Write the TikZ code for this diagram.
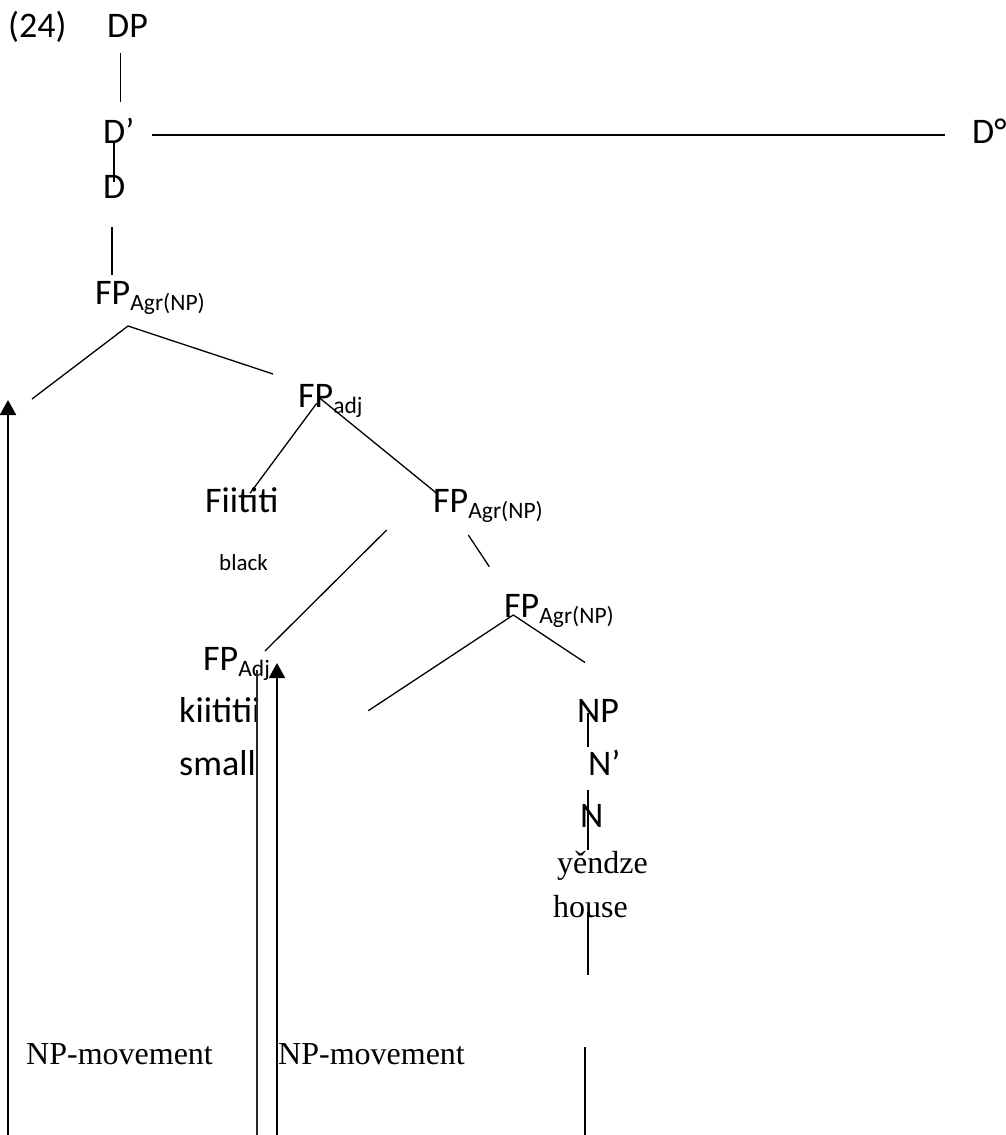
\documentclass[tikz,border=0pt]{standalone}
\usepackage{fontspec}
\setmainfont{Carlito}
\newfontfamily\tnr{Liberation Serif}
\usetikzlibrary{arrows.meta}
\newcommand{\sbs}[1]{\raisebox{-6pt}{\fontsize{23.5pt}{28pt}\selectfont #1}}
\begin{document}
\begin{tikzpicture}[x=1pt,y=-1pt,
  lab/.style={inner sep=0pt,anchor=base west,font=\fontsize{36pt}{43pt}\selectfont},
  tlab/.style={inner sep=0pt,anchor=base west,font=\tnr\fontsize{32pt}{38pt}\selectfont},
  smalllab/.style={inner sep=0pt,anchor=base west,font=\fontsize{23pt}{28pt}\selectfont},
  branch/.style={line width=1.3pt},
  thinline/.style={line width=1.2pt,black!85},
  movearrow/.style={line width=2pt,-{Triangle[length=15pt,width=16pt]}}]
\useasboundingbox (0,0) rectangle (1005,1135);
% labels
\node[lab] (n24) at (8,37) {(24)};
\node[lab] (DP) at (107,37) {DP};
\node[lab] (Dbar) at (103,143) {D’};
\node[lab] (Ddeg) at (972,143) {D°};
\node[lab] (D) at (103,198) {D};
\node[lab] (FPtop) at (95,304) {FP\sbs{Agr(NP)}};
\node[lab] (FPadj) at (298,407) {FP\sbs{adj}};
\node[lab] (Fiititi) at (205,512) {Fiititi};
\node[smalllab] (black) at (219,570) {black};
\node[lab] (FPmid) at (433,512) {FP\sbs{Agr(NP)}};
\node[lab] (FPlow) at (504,617) {FP\sbs{Agr(NP)}};
\node[lab] (FPAdj) at (203,670) {FP\sbs{Adj}};
\node[lab] (kiititii) at (179,722) {kiititii};
\node[lab] (small) at (179,775) {small};
\node[lab] (NP) at (577,722) {NP};
\node[lab] (Nbar) at (588,775) {N’};
\node[lab] (N) at (580,827) {N};
\node[tlab] (yendze) at (557,873) {yěndze};
\node[tlab] (house) at (553,917) {house};
\node[tlab] (mov1) at (26,1064) {NP-movement};
\node[tlab] (mov2) at (278,1064) {NP-movement};
% coordinates
\coordinate (a1) at (120.7,53);   \coordinate (a2) at (120.7,102);
\coordinate (h1) at (152,135);    \coordinate (h2) at (945,135);
\coordinate (b1) at (114,142);    \coordinate (b2) at (114,182);
\coordinate (c1) at (112,227);    \coordinate (c2) at (112,275);
\coordinate (t1) at (32,399);     \coordinate (t2) at (128,326);  \coordinate (t3) at (273,374);
\coordinate (f1) at (316.7,403.3); \coordinate (f2) at (250,493.3);
\coordinate (g1) at (320,398.3);  \coordinate (g2) at (436.7,493.3);
\coordinate (m1) at (386.7,530);  \coordinate (m2) at (265,651);
\coordinate (r1) at (468.3,535);  \coordinate (r2) at (489.3,566.7);
\coordinate (l1) at (368.3,710.7); \coordinate (l2) at (513.3,615); \coordinate (l3) at (585,662.5);
\coordinate (p1) at (588,713);    \coordinate (p2) at (588,747);
\coordinate (q1) at (588,790);    \coordinate (q2) at (588,850);
\coordinate (s1) at (588,912);    \coordinate (s2) at (588,975);
\coordinate (u1) at (585,1047);   \coordinate (u2) at (585,1135);
\coordinate (v1) at (8,1135);     \coordinate (v2) at (8,400);
\coordinate (w1) at (257,670);    \coordinate (w2) at (257,1135);
\coordinate (z1) at (277,1135);   \coordinate (z2) at (277,663);
% connectors
\draw[branch] (a1) -- (a2);
\draw[branch] (h1) -- (h2);
\draw[branch] (b1) -- (b2);
\draw[branch] (c1) -- (c2);
\draw[branch] (t1) -- (t2) -- (t3);
\draw[branch] (f1) -- (f2);
\draw[branch] (g1) -- (g2);
\draw[branch] (m1) -- (m2);
\draw[branch] (r1) -- (r2);
\draw[branch] (l1) -- (l2) -- (l3);
\draw[branch] (p1) -- (p2);
\draw[branch] (q1) -- (q2);
\draw[branch] (s1) -- (s2);
\draw[branch] (u1) -- (u2);
\draw[movearrow] (v1) -- (v2);
\draw[thinline] (w1) -- (w2);
\draw[movearrow] (z1) -- (z2);
\end{tikzpicture}
\end{document}
